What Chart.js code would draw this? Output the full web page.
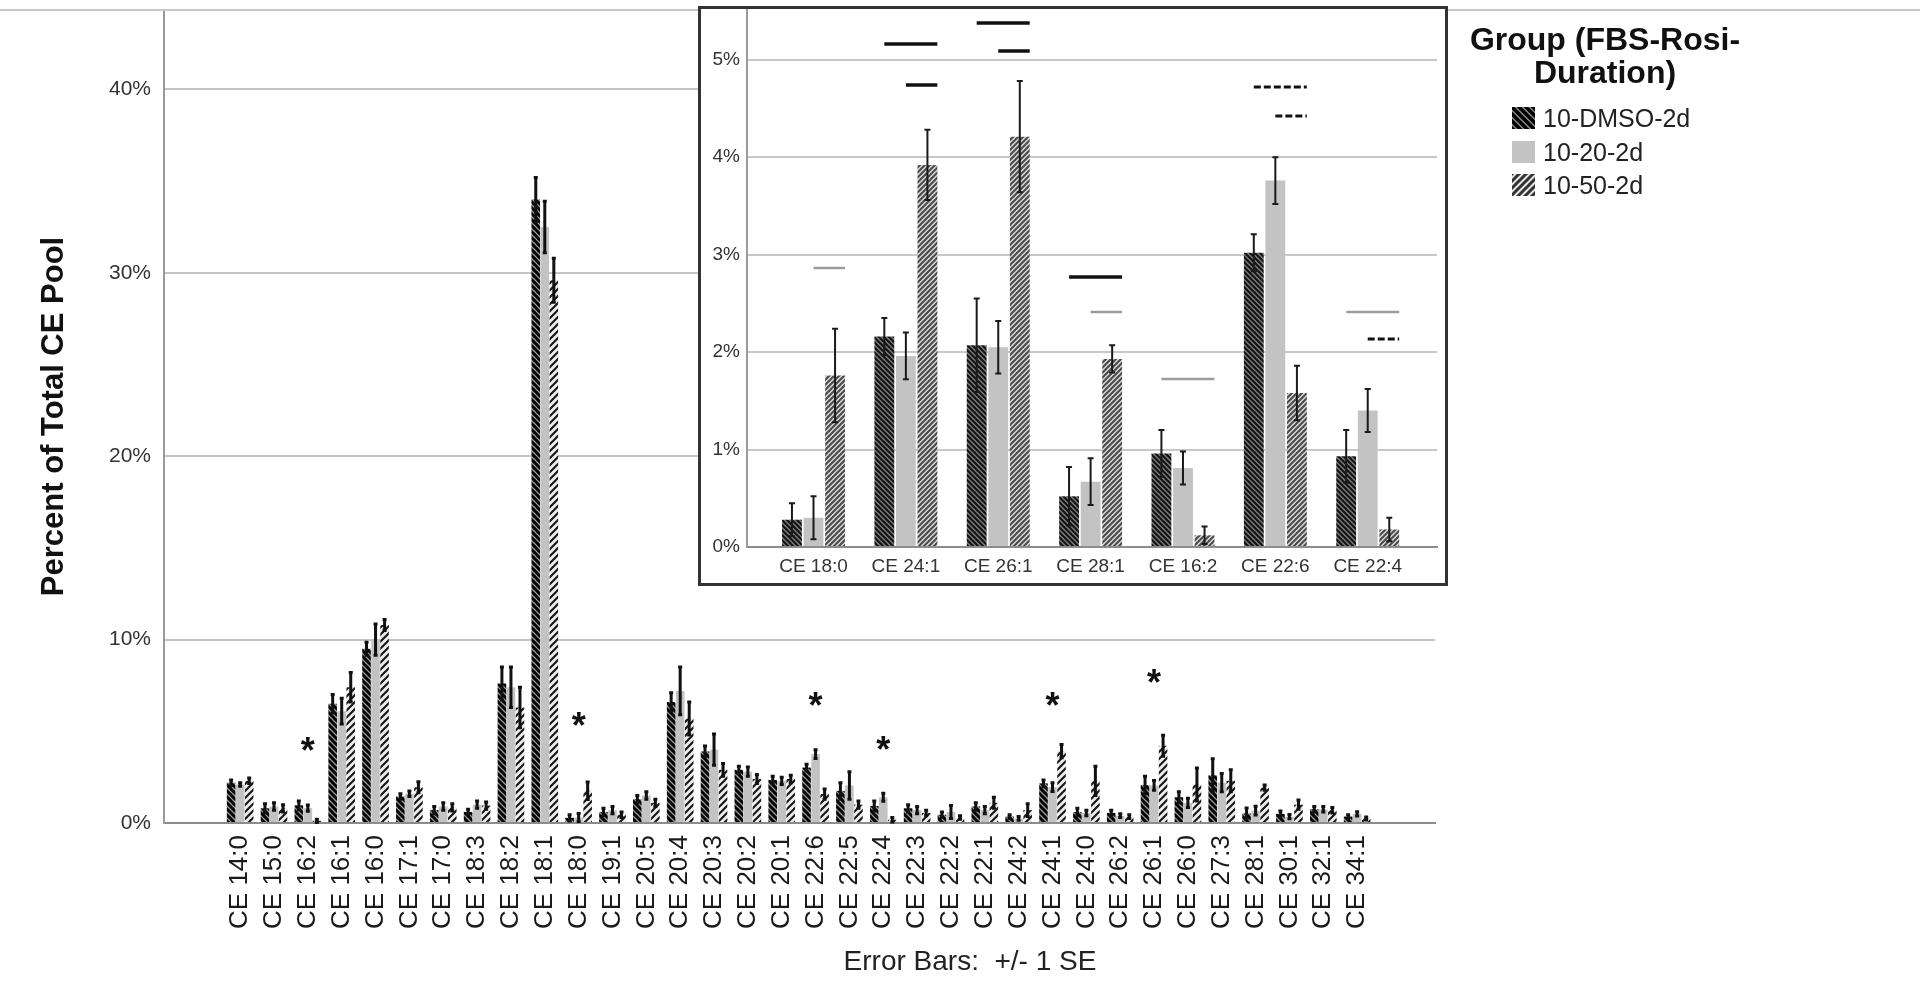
<!DOCTYPE html>
<html>
<head>
<meta charset="utf-8">
<script src="https://cdn.jsdelivr.net/npm/chart.js@4.4.1/dist/chart.umd.min.js"></script>
<style>
html, body { margin:0; padding:0; background:#fff; width:1920px; height:981px; overflow:hidden; font-family:'Liberation Sans', Arial, sans-serif; }
#main { position:absolute; left:0; top:0; }
#insetBox { position:absolute; left:698px; top:6px; width:750px; height:580px; box-sizing:border-box; border:3px solid #333; background:#fff; }
#inset { position:absolute; left:0; top:0; }
#legendTitle { position:absolute; left:1440px; top:23px; width:330px; text-align:center; font-weight:bold; font-size:32px; line-height:33px; color:#111; }
.legItem { position:absolute; left:1512px; height:22px; font-size:25px; line-height:22px; color:#222; white-space:nowrap; }
.legItem canvas { position:absolute; left:0; top:0; }
.legItem span { position:absolute; left:31px; top:0; }
#footnote { position:absolute; left:770px; width:400px; top:944px; text-align:center; font-size:28px; line-height:34px; color:#222; white-space:pre; }
</style>
</head>
<body>
<canvas id="main" width="1920" height="981"></canvas>
<div id="insetBox"><canvas id="inset" width="744" height="574"></canvas></div>
<div id="legendTitle">Group (FBS-Rosi-<br>Duration)</div>
<div id="legendItems"></div>
<div id="footnote">Error Bars:  +/- 1 SE</div>
<script>
// ---------------- DATA ----------------
const categories = ['CE 14:0','CE 15:0','CE 16:2','CE 16:1','CE 16:0','CE 17:1','CE 17:0','CE 18:3','CE 18:2','CE 18:1','CE 18:0','CE 19:1','CE 20:5','CE 20:4','CE 20:3','CE 20:2','CE 20:1','CE 22:6','CE 22:5','CE 22:4','CE 22:3','CE 22:2','CE 22:1','CE 24:2','CE 24:1','CE 24:0','CE 26:2','CE 26:1','CE 26:0','CE 27:3','CE 28:1','CE 30:1','CE 32:1','CE 34:1'];
const groups = ['10-DMSO-2d', '10-20-2d', '10-50-2d'];

const dmso      = [2.2, 0.8, 0.96, 6.5, 9.5, 1.45, 0.7, 0.6, 7.6, 34.0, 0.28, 0.6, 1.3, 6.6, 3.9, 2.9, 2.35, 3.02, 1.75, 0.93, 0.8, 0.45, 0.9, 0.35, 2.16, 0.6, 0.55, 2.07, 1.4, 2.6, 0.52, 0.5, 0.75, 0.35];
const dmsoErr   = [0.15, 0.25, 0.24, 0.5, 0.35, 0.15, 0.2, 0.15, 0.9, 1.2, 0.17, 0.2, 0.2, 0.5, 0.3, 0.2, 0.2, 0.19, 0.45, 0.27, 0.2, 0.15, 0.2, 0.1, 0.19, 0.2, 0.15, 0.48, 0.3, 0.9, 0.3, 0.15, 0.15, 0.1];
const rosi20    = [2.1, 0.9, 0.81, 6.1, 10.0, 1.6, 0.9, 1.0, 7.4, 32.5, 0.30, 0.7, 1.5, 7.2, 4.0, 2.8, 2.3, 3.76, 2.05, 1.40, 0.7, 0.6, 0.7, 0.25, 1.96, 0.55, 0.4, 2.05, 1.1, 2.2, 0.67, 0.35, 0.75, 0.5];
const rosi20Err = [0.1, 0.2, 0.17, 0.7, 0.85, 0.15, 0.2, 0.2, 1.1, 1.4, 0.22, 0.2, 0.2, 1.3, 0.85, 0.25, 0.2, 0.24, 0.75, 0.22, 0.2, 0.35, 0.2, 0.1, 0.24, 0.15, 0.1, 0.27, 0.25, 0.5, 0.24, 0.12, 0.15, 0.12];
const rosi50    = [2.3, 0.8, 0.12, 7.4, 10.8, 1.95, 0.85, 0.95, 6.3, 29.6, 1.76, 0.45, 1.1, 5.7, 2.9, 2.4, 2.4, 1.58, 1.0, 0.18, 0.55, 0.3, 1.1, 0.7, 3.92, 2.3, 0.35, 4.21, 2.1, 2.3, 1.93, 1.0, 0.7, 0.25];
const rosi50Err = [0.15, 0.2, 0.09, 0.8, 0.3, 0.3, 0.2, 0.2, 1.1, 1.2, 0.48, 0.15, 0.2, 0.9, 0.35, 0.25, 0.2, 0.28, 0.2, 0.12, 0.15, 0.1, 0.3, 0.35, 0.36, 0.8, 0.1, 0.57, 0.9, 0.6, 0.14, 0.25, 0.15, 0.08];

const yTicks = [0, 10, 20, 30, 40];

// asterisks on the main chart (category, height in %)
const starCategories = ['CE 16:2', 'CE 18:0', 'CE 22:6', 'CE 22:4', 'CE 24:1', 'CE 26:1'];
const starValues     = [4.16, 5.52, 6.61, 4.25, 6.61, 7.88];

// inset
const insetCategories = ['CE 18:0', 'CE 24:1', 'CE 26:1', 'CE 28:1', 'CE 16:2', 'CE 22:6', 'CE 22:4'];
const insetTicks = [0, 1, 2, 3, 4, 5];

// significance bars in the inset: category, compared groups, height (%), mark type
const sigCategory  = ['CE 18:0','CE 24:1','CE 24:1','CE 26:1','CE 26:1','CE 28:1','CE 28:1','CE 16:2','CE 22:6','CE 22:6','CE 22:4','CE 22:4'];
const sigFromGroup = [1, 0, 1, 0, 1, 0, 1, 0, 0, 1, 0, 1];
const sigToGroup   = [2, 2, 2, 2, 2, 2, 2, 2, 2, 2, 2, 2];
const sigValue     = [2.86, 5.16, 4.74, 5.38, 5.09, 2.77, 2.41, 1.72, 4.72, 4.42, 2.41, 2.13];
const sigMark      = ['gray','black','black','black','black','black','gray','gray','dash','dash','gray','dash'];

// ---------------- STYLE ----------------
const FONT = "'Liberation Sans', Arial, sans-serif";
Chart.defaults.font.family = FONT;

function makePattern(ctx, size, bg, fg, lw, dir) {
  const c = document.createElement('canvas');
  c.width = c.height = size;
  const g = c.getContext('2d');
  g.fillStyle = bg; g.fillRect(0, 0, size, size);
  g.strokeStyle = fg; g.lineWidth = lw;
  g.beginPath();
  for (const k of [-size, 0, size]) {
    if (dir === 'back') { g.moveTo(-1, -1 + k); g.lineTo(size + 1, size + 1 + k); }
    else { g.moveTo(-1, size + 1 + k); g.lineTo(size + 1, -1 + k); }
  }
  g.stroke();
  return ctx.createPattern(c, 'repeat');
}

const sigStyles = {
  black: { color: '#111', width: 3.5, dash: [] },
  gray:  { color: '#9c9c9c', width: 2.5, dash: [] },
  dash:  { color: '#111', width: 3, dash: [7, 3] }
};

// ---------------- PLUGINS ----------------
const errorBarPlugin = {
  id: 'errbars',
  afterDatasetsDraw(chart, args, opts) {
    const ctx = chart.ctx, y = chart.scales.y;
    chart.data.datasets.forEach((ds, di) => {
      const meta = chart.getDatasetMeta(di);
      meta.data.forEach((bar, i) => {
        const v = ds.data[i].y, e = ds.err[i];
        const x = bar.x;
        const yt = y.getPixelForValue(v + e), yb = y.getPixelForValue(Math.max(0, v - e));
        ctx.save();
        ctx.strokeStyle = opts.color; ctx.lineWidth = opts.width;
        ctx.beginPath();
        ctx.moveTo(x, yt); ctx.lineTo(x, yb);
        ctx.moveTo(x - opts.cap, yt); ctx.lineTo(x + opts.cap, yt);
        ctx.moveTo(x - opts.cap, yb); ctx.lineTo(x + opts.cap, yb);
        ctx.stroke();
        ctx.restore();
      });
    });
  }
};

const starPlugin = {
  id: 'stars',
  afterDatasetsDraw(chart, args, opts) {
    const ctx = chart.ctx, xs = chart.scales.x, ys = chart.scales.y;
    ctx.save();
    ctx.fillStyle = '#111';
    ctx.font = 'bold ' + opts.size + 'px ' + FONT;
    ctx.textAlign = 'center';
    ctx.textBaseline = 'alphabetic';
    starCategories.forEach((c, k) => {
      const x = xs.getPixelForValue(categories.indexOf(c));
      const y = ys.getPixelForValue(starValues[k]);
      ctx.fillText('*', x, y + 0.46 * opts.size);
    });
    ctx.restore();
  }
};

const framePlugin = {
  id: 'frame',
  afterDraw(chart) {
    const ctx = chart.ctx;
    ctx.save();
    ctx.strokeStyle = '#c8c8c8'; ctx.lineWidth = 2;
    ctx.beginPath(); ctx.moveTo(0, 10); ctx.lineTo(chart.width, 10); ctx.stroke();
    ctx.restore();
  }
};

const sigPlugin = {
  id: 'sig',
  afterDatasetsDraw(chart) {
    const ctx = chart.ctx, ys = chart.scales.y;
    sigCategory.forEach((c, k) => {
      const idx = insetCategories.indexOf(c);
      const b1 = chart.getDatasetMeta(sigFromGroup[k]).data[idx];
      const b2 = chart.getDatasetMeta(sigToGroup[k]).data[idx];
      const x1 = b1.x, x2 = b2.x + b2.width / 2;
      const y = Math.round(ys.getPixelForValue(sigValue[k]));
      const st = sigStyles[sigMark[k]];
      ctx.save();
      ctx.strokeStyle = st.color; ctx.lineWidth = st.width; ctx.setLineDash(st.dash);
      ctx.beginPath(); ctx.moveTo(x1, y); ctx.lineTo(x2, y); ctx.stroke();
      ctx.restore();
    });
  }
};

function zeroPad(s) { s.paddingTop = 0; s.paddingBottom = 0; s.paddingLeft = 0; s.paddingRight = 0; }

// ---------------- MAIN CHART ----------------
const mainCtx = document.getElementById('main').getContext('2d');
const mainFills = [
  makePattern(mainCtx, 6, '#9a9a9a', '#000', 3, 'back'),
  '#c3c3c3',
  makePattern(mainCtx, 7, '#efefef', '#1a1a1a', 2.2, 'fwd')
];
const mainSeries = [dmso, rosi20, rosi50];
const mainErrs = [dmsoErr, rosi20Err, rosi50Err];

new Chart(mainCtx, {
  type: 'bar',
  data: {
    datasets: mainSeries.map((vals, g) => ({
      label: groups[g],
      data: vals.map((v, i) => ({ x: i, y: v })),
      err: mainErrs[g],
      backgroundColor: mainFills[g],
      borderWidth: 0
    }))
  },
  options: {
    responsive: false, animation: false, devicePixelRatio: 1,
    categoryPercentage: 0.8, barPercentage: 0.95,
    layout: { padding: { left: 0, right: 0, top: 10, bottom: 0 } },
    plugins: {
      legend: { display: false }, tooltip: { enabled: false }, title: { display: false },
      errbars: { color: '#111', width: 3, cap: 2 },
      stars: { size: 36 }
    },
    scales: {
      x: {
        type: 'linear', min: -2.25, max: 35.3, offset: false,
        afterBuildTicks: s => { s.ticks = categories.map((c, i) => ({ value: i })); },
        afterFit: s => { s.height = 158; zeroPad(s); },
        grid: { display: false, drawTicks: false },
        border: { display: true, color: '#8c8c8c', width: 2 },
        ticks: { autoSkip: false, minRotation: 90, maxRotation: 90, padding: 12, color: '#1a1a1a',
                 font: { size: 26, family: FONT }, callback: v => categories[v] }
      },
      y: {
        min: 0, max: 44.33,
        afterBuildTicks: s => { s.ticks = yTicks.map(v => ({ value: v })); },
        afterFit: s => { s.width = 164; zeroPad(s); },
        grid: { color: ctx => ctx.tick && ctx.tick.value === 0 ? '#8c8c8c' : '#c4c4c4', lineWidth: 2, drawTicks: false },
        border: { display: true, color: '#9a9a9a', width: 2 },
        ticks: { padding: 13, color: '#333', font: { size: 21, family: FONT }, callback: v => v + '%' },
        title: { display: true, text: 'Percent of Total CE Pool', color: '#111',
                 font: { size: 31, weight: 'bold', family: FONT }, padding: { top: 36, bottom: 0 } }
      },
      yR: {
        position: 'right', display: true,
        afterFit: s => { s.width = 485; zeroPad(s); },
        grid: { display: false, drawTicks: false }, border: { display: false }, ticks: { display: false }
      }
    }
  },
  plugins: [errorBarPlugin, starPlugin, framePlugin]
});

// ---------------- INSET CHART ----------------
const insetCtx = document.getElementById('inset').getContext('2d');
const insetFills = [
  makePattern(insetCtx, 5, '#7a7a7a', '#111', 2, 'back'),
  '#c3c3c3',
  makePattern(insetCtx, 5, '#d8d8d8', '#4a4a4a', 2, 'fwd')
];
const insetIdx = insetCategories.map(c => categories.indexOf(c));

new Chart(insetCtx, {
  type: 'bar',
  data: {
    datasets: mainSeries.map((vals, g) => ({
      label: groups[g],
      data: insetIdx.map((ci, i) => ({ x: i, y: vals[ci] })),
      err: insetIdx.map(ci => mainErrs[g][ci]),
      backgroundColor: insetFills[g],
      borderWidth: 0
    }))
  },
  options: {
    responsive: false, animation: false, devicePixelRatio: 1,
    categoryPercentage: 0.7, barPercentage: 0.92,
    layout: { padding: { left: 0, right: 8, top: 0, bottom: 0 } },
    plugins: {
      legend: { display: false }, tooltip: { enabled: false }, title: { display: false },
      errbars: { color: '#1a1a1a', width: 2, cap: 3 }
    },
    scales: {
      x: {
        type: 'linear', min: -0.72, max: 6.75, offset: false,
        afterBuildTicks: s => { s.ticks = insetCategories.map((c, i) => ({ value: i })); },
        afterFit: s => { s.height = 36; zeroPad(s); },
        grid: { display: false, drawTicks: false },
        border: { display: true, color: '#8c8c8c', width: 2 },
        ticks: { autoSkip: false, minRotation: 0, maxRotation: 0, padding: 8, color: '#333',
                 font: { size: 19, family: FONT }, callback: v => insetCategories[v] }
      },
      y: {
        min: 0, max: 5.52,
        afterBuildTicks: s => { s.ticks = insetTicks.map(v => ({ value: v })); },
        afterFit: s => { s.width = 46; zeroPad(s); },
        grid: { color: ctx => ctx.tick && ctx.tick.value === 0 ? '#8c8c8c' : '#c8c8c8', lineWidth: 2, drawTicks: false },
        border: { display: true, color: '#9a9a9a', width: 2 },
        ticks: { padding: 7, color: '#333', font: { size: 19, family: FONT }, callback: v => v + '%' }
      }
    }
  },
  plugins: [errorBarPlugin, sigPlugin]
});

// ---------------- LEGEND ----------------
const legendRowsY = [118, 152, 185];
const legendHost = document.getElementById('legendItems');
groups.forEach((name, g) => {
  const item = document.createElement('div');
  item.className = 'legItem';
  item.style.top = (legendRowsY[g] - 11) + 'px';
  const sw = document.createElement('canvas');
  sw.width = 23; sw.height = 22;
  const sctx = sw.getContext('2d');
  const fills = [
    makePattern(sctx, 7, '#8a8a8a', '#000', 3.5, 'back'),
    '#c3c3c3',
    makePattern(sctx, 7, '#e6e6e6', '#333', 3, 'fwd')
  ];
  sctx.fillStyle = fills[g];
  sctx.fillRect(0, 0, 23, 22);
  const label = document.createElement('span');
  label.textContent = name;
  item.appendChild(sw);
  item.appendChild(label);
  legendHost.appendChild(item);
});
</script>
</body>
</html>
